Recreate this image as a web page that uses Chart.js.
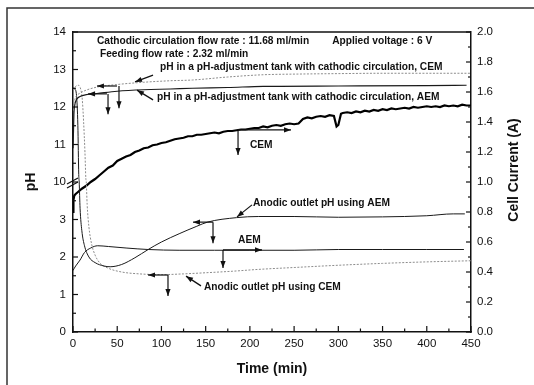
<!DOCTYPE html>
<html><head><meta charset="utf-8">
<script src="https://cdn.jsdelivr.net/npm/chart.js@4"></script>
<style>html,body{margin:0;padding:0;background:#fff;}#wrap{width:534px;height:385px;position:relative;}</style>
</head><body><div id="wrap"><canvas id="c"></canvas></div>
<script>
// ---------- data ----------
const tankCEM_t  = [0, 1, 2, 4, 8, 15, 27, 50, 80, 110, 135, 175, 215, 260, 300, 350, 400, 450];
const tankCEM_pH = [11.9, 12.1, 12.2, 12.3, 12.37, 12.45, 12.53, 12.6, 12.66, 12.7, 12.72, 12.8, 12.86, 12.88, 12.89, 12.9, 12.9, 12.9];

const tankAEM_t  = [0, 0.5, 1, 2, 4, 8, 15, 27, 50, 80, 110, 135, 175, 215, 300, 400, 445];
const tankAEM_pH = [10.9, 11.3, 11.8, 12.05, 12.2, 12.28, 12.33, 12.36, 12.42, 12.46, 12.48, 12.5, 12.52, 12.55, 12.56, 12.57, 12.58];

const anodAEM_t  = [0, 2, 4, 5.5, 6.5, 7, 8, 10, 13, 18, 25, 35, 42, 55, 70, 85, 100, 120, 140, 152, 185, 210, 250, 300, 350, 400, 430, 443];
const anodAEM_pH = [12.5, 12.48, 12.3, 11.5, 10.2, 4.0, 3.3, 2.7, 2.3, 2.0, 1.85, 1.76, 1.74, 1.8, 1.98, 2.2, 2.4, 2.62, 2.82, 2.93, 3.05, 3.08, 3.08, 3.06, 3.07, 3.1, 3.15, 3.15];

const anodCEM_t  = [0, 3, 6, 9, 10.5, 12, 13.5, 14.5, 15, 16, 18, 21, 25, 30, 40, 55, 75, 100, 125, 150, 180, 210, 250, 300, 350, 400, 450];
const anodCEM_pH = [12.45, 12.55, 12.58, 12.45, 12.2, 11.6, 10.8, 10.1, 4.0, 3.4, 2.8, 2.35, 2.05, 1.85, 1.7, 1.6, 1.55, 1.53, 1.55, 1.58, 1.62, 1.67, 1.72, 1.78, 1.83, 1.87, 1.9];

const curAEM_t = [0, 3, 8, 13, 20, 28, 40, 60, 85, 120, 160, 200, 250, 300, 350, 400, 442];
const curAEM_A = [0.41, 0.44, 0.48, 0.53, 0.56, 0.575, 0.57, 0.56, 0.55, 0.545, 0.545, 0.545, 0.545, 0.55, 0.55, 0.55, 0.55];

const curCEM_t = [0, 0.5, 1.5, 3, 5, 10, 15, 20, 25, 30, 35, 40, 45, 50, 55, 60, 65, 70, 75, 80, 85, 90, 95, 100,
  105, 110, 115, 120, 125, 130, 135, 140, 145, 150, 155, 160, 165, 170, 175, 180, 185, 190, 195, 200,
  205, 210, 215, 220, 225, 230, 235, 240, 245, 250, 255, 260, 265, 270, 275, 280, 285, 290, 295, 298, 300, 303,
  305, 310, 315, 320, 325, 330, 335, 340, 345, 350, 355, 360, 365, 370, 375, 380, 385, 390, 395, 400,
  405, 410, 415, 420, 425, 430, 435, 440, 445, 450];
const curCEM_A = [0.8, 0.88, 0.91, 0.92, 0.93, 0.955, 0.975, 1.0, 1.02, 1.045, 1.07, 1.095, 1.11, 1.14, 1.155, 1.17, 1.18, 1.2, 1.21, 1.225, 1.23, 1.245, 1.25, 1.26,
  1.265, 1.275, 1.285, 1.29, 1.295, 1.305, 1.305, 1.315, 1.315, 1.32, 1.325, 1.33, 1.325, 1.335, 1.34, 1.34, 1.345, 1.35, 1.35, 1.355,
  1.36, 1.36, 1.37, 1.365, 1.375, 1.38, 1.375, 1.385, 1.39, 1.385, 1.39, 1.42, 1.43, 1.425, 1.435, 1.44, 1.435, 1.445, 1.44, 1.37, 1.38, 1.455,
  1.46, 1.465, 1.46, 1.47, 1.465, 1.475, 1.47, 1.48, 1.475, 1.485, 1.48, 1.49, 1.485, 1.49, 1.495, 1.49, 1.5, 1.495, 1.5, 1.505,
  1.5, 1.505, 1.5, 1.51, 1.505, 1.51, 1.505, 1.515, 1.51, 1.51];

// ---------- helpers ----------
const FONT = '"Liberation Sans", Arial, Helvetica, sans-serif';
function toAxis(p) { return p <= 4 ? p : p - 6; }            // broken pH axis: 0-4 and 10-14
function pts(ts, vs, conv) { return ts.map((t, i) => ({ x: t, y: conv ? conv(vs[i]) : vs[i] })); }

// annotations: [text, time, value, axis]
const labels = [
  ['Cathodic circulation flow rate : 11.68 ml/min', 27, 13.76, 'pH'],
  ['Applied voltage : 6 V', 293, 13.76, 'pH'],
  ['Feeding flow rate : 2.32 ml/min', 30.5, 13.41, 'pH'],
  ['pH in a pH-adjustment tank with cathodic circulation, CEM', 98.4, 13.07, 'pH'],
  ['pH in a pH-adjustment tank with cathodic circulation, AEM', 95, 12.27, 'pH'],
  ['CEM', 200, 1.247, 'A'],
  ['Anodic outlet pH using AEM', 203.5, 3.44, 'pH'],
  ['AEM', 186.6, 0.613, 'A'],
  ['Anodic outlet pH using CEM', 148, 1.2, 'pH']
];
// arrows: [t1, v1, t2, v2, axis]  (head at the second point)
const arrows = [
  [49.8, 12.56, 27.1, 12.56, 'pH'],
  [38.4, 12.35, 17.0, 12.35, 'pH'],
  [39.6, 12.35, 39.6, 11.81, 'pH'],
  [52.0, 12.56, 52.0, 11.97, 'pH'],
  [90.5, 12.85, 70.1, 12.67, 'pH'],
  [90.5, 12.19, 72.4, 12.45, 'pH'],
  [186.6, 1.347, 246.5, 1.347, 'A'],
  [186.6, 1.34, 186.6, 1.18, 'A'],
  [158.3, 2.93, 135.7, 2.93, 'pH'],
  [158.3, 2.93, 158.3, 2.37, 'pH'],
  [202.4, 3.39, 185.4, 3.07, 'pH'],
  [169.6, 0.547, 213.7, 0.547, 'A'],
  [169.6, 0.547, 169.6, 0.427, 'A'],
  [107.4, 1.52, 84.8, 1.52, 'pH'],
  [107.4, 1.52, 107.4, 0.96, 'pH'],
  [144.7, 1.23, 127.8, 1.49, 'pH']
];

const decor = {
  id: 'decor',
  afterDraw(chart) {
    const { ctx, chartArea: a, scales: { x, yL, yR } } = chart;
    const py = (v, ax) => ax === 'A' ? yR.getPixelForValue(v) : yL.getPixelForValue(toAxis(v));
    ctx.save();
    // outer frame
    ctx.strokeStyle = '#333'; ctx.lineWidth = 1.5;
    ctx.beginPath(); ctx.moveTo(7, 385); ctx.lineTo(7, 8); ctx.lineTo(534, 8); ctx.stroke();
    // plot box top
    ctx.strokeStyle = '#111';
    ctx.beginPath(); ctx.moveTo(a.left, a.top); ctx.lineTo(a.right, a.top); ctx.stroke();
    // inward ticks
    ctx.lineWidth = 1.2;
    const line = (x1, y1, x2, y2) => { ctx.beginPath(); ctx.moveTo(x1, y1); ctx.lineTo(x2, y2); ctx.stroke(); };
    for (let v = 0; v <= 450; v += 25) { const p = x.getPixelForValue(v); line(p, a.bottom, p, a.bottom - (v % 50 === 0 ? 6 : 3.5)); }
    for (let k = 0; k <= 16; k++) { const p = yL.getPixelForValue(k / 2); line(a.left, p, a.left + (k % 2 === 0 ? 5 : 3), p); }
    for (let k = 0; k <= 20; k++) { const p = yR.getPixelForValue(k / 10); line(a.right, p, a.right - (k % 2 === 0 ? 5 : 3), p); }
    // axis break marks
    const yb = yL.getPixelForValue(4);
    ctx.lineWidth = 1.2;
    line(a.left - 6, yb + 2, a.left + 5, yb - 4);
    line(a.left - 6, yb + 6, a.left + 5, yb);
    // arrows
    ctx.fillStyle = '#111'; ctx.strokeStyle = '#111'; ctx.lineWidth = 1.2;
    arrows.forEach(([t1, v1, t2, v2, ax]) => {
      const x1 = x.getPixelForValue(t1), y1 = py(v1, ax), x2 = x.getPixelForValue(t2), y2 = py(v2, ax);
      line(x1, y1, x2, y2);
      const ang = Math.atan2(y2 - y1, x2 - x1), L = 7, W = 2.6;
      ctx.beginPath();
      ctx.moveTo(x2, y2);
      ctx.lineTo(x2 - L * Math.cos(ang) + W * Math.sin(ang), y2 - L * Math.sin(ang) - W * Math.cos(ang));
      ctx.lineTo(x2 - L * Math.cos(ang) - W * Math.sin(ang), y2 - L * Math.sin(ang) + W * Math.cos(ang));
      ctx.closePath(); ctx.fill();
    });
    // texts
    ctx.font = 'bold 10.2px ' + FONT; ctx.textBaseline = 'middle'; ctx.textAlign = 'left';
    labels.forEach(([s, t, v, ax]) => ctx.fillText(s, x.getPixelForValue(t), py(v, ax)));
    // right axis title (reads bottom to top)
    ctx.save();
    ctx.translate(514, 170); ctx.rotate(-Math.PI / 2);
    ctx.font = 'bold 14px ' + FONT; ctx.textAlign = 'center';
    ctx.fillText('Cell Current (A)', 0, 0);
    ctx.restore();
    ctx.restore();
  }
};

const tickFont = { family: FONT, size: 11.5 };
const titleFont = { family: FONT, size: 14, weight: 'bold' };

new Chart(document.getElementById('c'), {
  type: 'line',
  data: {
    datasets: [
      { data: pts(tankCEM_t, tankCEM_pH, toAxis), yAxisID: 'yL', borderColor: '#8c8c8c', borderWidth: 1, borderDash: [2, 1.5], cubicInterpolationMode: 'monotone' },
      { data: pts(tankAEM_t, tankAEM_pH, toAxis), yAxisID: 'yL', borderColor: '#1a1a1a', borderWidth: 1.2, cubicInterpolationMode: 'monotone' },
      { data: pts(anodAEM_t, anodAEM_pH, toAxis), yAxisID: 'yL', borderColor: '#1a1a1a', borderWidth: 1, cubicInterpolationMode: 'monotone' },
      { data: pts(anodCEM_t, anodCEM_pH, toAxis), yAxisID: 'yL', borderColor: '#8c8c8c', borderWidth: 1, borderDash: [2, 1.5], cubicInterpolationMode: 'monotone' },
      { data: pts(curAEM_t, curAEM_A), yAxisID: 'yR', borderColor: '#1a1a1a', borderWidth: 1, cubicInterpolationMode: 'monotone' },
      { data: pts(curCEM_t, curCEM_A), yAxisID: 'yR', borderColor: '#000', borderWidth: 2.2, tension: 0 }
    ]
  },
  options: {
    responsive: true, maintainAspectRatio: false, animation: false,
    layout: { padding: { top: 32, left: 0, right: 0, bottom: 0 } },
    elements: { point: { radius: 0 } },
    plugins: { legend: { display: false }, tooltip: { enabled: false } },
    scales: {
      x: {
        type: 'linear', min: 0, max: 450,
        ticks: { stepSize: 50, font: tickFont, color: '#111', padding: 5, maxRotation: 0 },
        grid: { display: false, drawTicks: false },
        border: { display: true, color: '#111', width: 1.5 },
        title: { display: true, text: 'Time (min)', font: titleFont, color: '#111', padding: { top: 0, bottom: 7 } },
        afterFit: s => { s.height = 53; }
      },
      yL: {
        type: 'linear', position: 'left', min: 0, max: 8,
        ticks: { stepSize: 1, font: tickFont, color: '#111', padding: 7, callback: v => (v < 4 ? v : v + 6) },
        grid: { display: false, drawTicks: false },
        border: { display: true, color: '#111', width: 1.5 },
        title: { display: true, text: 'pH', font: titleFont, color: '#111', padding: { top: 22.6, bottom: 0 } },
        afterFit: s => { s.width = 73; }
      },
      yR: {
        type: 'linear', position: 'right', min: 0, max: 2,
        ticks: { stepSize: 0.2, font: tickFont, color: '#111', padding: 6, callback: v => v.toFixed(1) },
        grid: { display: false, drawTicks: false },
        border: { display: true, color: '#111', width: 1.5 },
        afterFit: s => { s.width = 63; }
      }
    }
  },
  plugins: [decor]
});
</script>
</body></html>
